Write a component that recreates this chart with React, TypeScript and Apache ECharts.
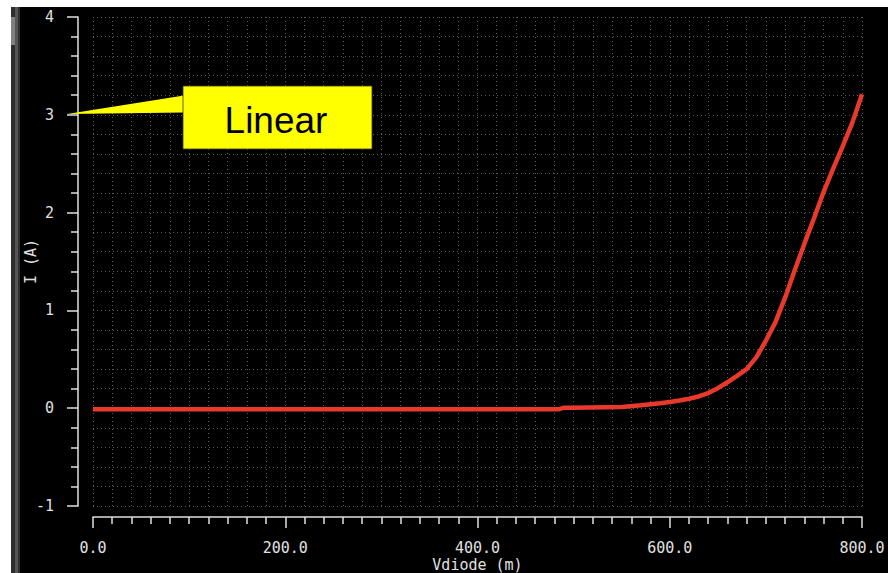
import React, { useEffect, useRef } from "react";
import * as echarts from "echarts";

// Diode sweep: Vdiode (mV) vs I (A)
const voltage = [0, 100, 200, 300, 400, 485, 490, 500, 550, 570, 590, 600, 610, 620, 630, 640, 650, 660, 670, 680, 690, 700, 710, 720, 730, 740, 750, 760, 770, 780, 790, 800];
const current = [-0.01, -0.01, -0.01, -0.01, -0.01, -0.01, 0.005, 0.005, 0.012, 0.03, 0.05, 0.064, 0.078, 0.097, 0.12, 0.155, 0.205, 0.265, 0.33, 0.4, 0.52, 0.69, 0.88, 1.13, 1.41, 1.68, 1.94, 2.21, 2.45, 2.68, 2.92, 3.21];

const xTickValues = [0, 200, 400, 600, 800];
const xTickLabels = ["0.0", "200.0", "400.0", "600.0", "800.0"];
const yTickValues = [-1, 0, 1, 2, 3, 4];
const yTickLabels = ["-1", "0", "1", "2", "3", "4"];

const xTitle = "Vdiode (m)";
const yTitle = "I (A)";
const calloutText = "Linear";

export default function App() {
  const ref = useRef<HTMLDivElement>(null);

  useEffect(() => {
    document.body.style.margin = "0";
    if (!ref.current) return;
    const chart = echarts.init(ref.current, undefined, { renderer: "svg" });
    const axisColor = "#e0e0e0";
    const gridLine = { color: "#5a5a5a", width: 1, type: [1, 3] as any };
    const mono = "DejaVu Sans Mono";

    chart.setOption({
      animation: false,
      backgroundColor: "#ffffff",
      grid: { left: 93, right: 26, top: 17, bottom: 67, containLabel: false, outerBoundsMode: "none" },
      xAxis: {
        type: "value",
        min: 0,
        max: 800,
        interval: 200,
        offset: 11,
        name: xTitle,
        nameLocation: "middle",
        nameGap: 40,
        nameMoveOverlap: false,
        nameTextStyle: { color: axisColor, fontFamily: mono, fontSize: 15 },
        axisLine: { show: true, onZero: false, lineStyle: { color: axisColor, width: 1.5 } },
        axisTick: { show: true, length: 11, lineStyle: { color: axisColor, width: 1.5 } },
        minorTick: { show: true, splitNumber: 10, length: 7, lineStyle: { color: axisColor, width: 1.5 } },
        axisLabel: {
          color: axisColor,
          fontFamily: mono,
          fontSize: 15,
          margin: 23,
          formatter: (v: number) => {
            const i = xTickValues.indexOf(v);
            return i >= 0 ? xTickLabels[i] : "";
          },
        },
        splitLine: { show: true, lineStyle: gridLine },
        minorSplitLine: { show: true, lineStyle: gridLine },
      },
      yAxis: {
        type: "value",
        min: -1,
        max: 4,
        interval: 1,
        offset: 15,
        name: yTitle,
        nameLocation: "middle",
        nameGap: 40,
        nameRotate: 90,
        nameMoveOverlap: false,
        nameTextStyle: { color: axisColor, fontFamily: mono, fontSize: 15 },
        axisLine: { show: true, onZero: false, lineStyle: { color: axisColor, width: 1.5 } },
        axisTick: { show: true, length: 11, lineStyle: { color: axisColor, width: 1.5 } },
        minorTick: { show: true, splitNumber: 5, length: 7, lineStyle: { color: axisColor, width: 1.5 } },
        axisLabel: {
          color: axisColor,
          fontFamily: mono,
          fontSize: 15,
          margin: 24,
          formatter: (v: number) => {
            const i = yTickValues.indexOf(v);
            return i >= 0 ? yTickLabels[i] : "";
          },
        },
        splitLine: { show: true, lineStyle: gridLine },
        minorSplitLine: { show: true, lineStyle: gridLine },
      },
      series: [
        {
          type: "line",
          data: voltage.map((v, i) => [v, current[i]]),
          showSymbol: false,
          symbol: "none",
          lineStyle: { color: "#e8392c", width: 4.5 },
          z: 5,
        },
      ],
      graphic: [
        { type: "rect", z: -10, silent: true, shape: { x: 11, y: 7, width: 877, height: 566 }, style: { fill: "#000000" } },
        { type: "rect", z: -9, silent: true, shape: { x: 11, y: 7, width: 9, height: 566 }, style: { fill: "#2e2e2e" } },
        { type: "rect", z: -8, silent: true, shape: { x: 15, y: 7, width: 3, height: 566 }, style: { fill: "#555555" } },
        { type: "rect", z: -7, silent: true, shape: { x: 11, y: 17, width: 4, height: 28 }, style: { fill: "#808080" } },
        {
          type: "polygon",
          z: 100,
          silent: true,
          shape: { points: [[67, 114], [184, 95.5], [184, 112.5]] },
          style: { fill: "#ffff00" },
        },
        {
          type: "rect",
          z: 100,
          silent: true,
          shape: { x: 183, y: 86, width: 189, height: 63 },
          style: { fill: "#ffff00", stroke: "#3a3a00", lineWidth: 0.8 },
        },
        {
          type: "text",
          z: 101,
          silent: true,
          style: {
            text: calloutText,
            x: 276,
            y: 120,
            align: "center",
            verticalAlign: "middle",
            fontFamily: "Liberation Sans, Arial, sans-serif",
            fontSize: 37,
            fill: "#000000",
          },
        },
      ],
    });
    return () => chart.dispose();
  }, []);

  return <div ref={ref} style={{ position: "absolute", left: 0, top: 0, width: 888, height: 573 }} />;
}
